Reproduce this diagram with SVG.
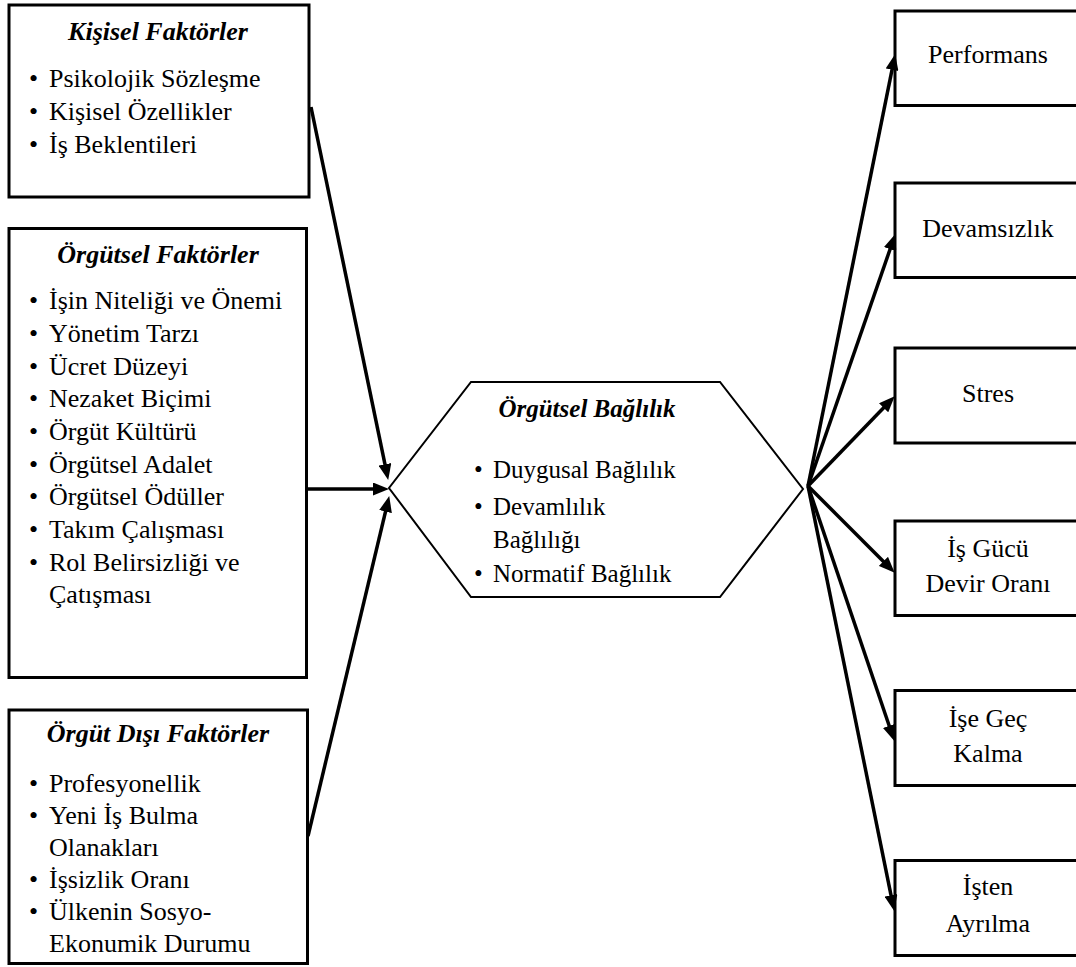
<svg xmlns="http://www.w3.org/2000/svg" width="1076" height="967" viewBox="0 0 1076 967" font-family="'Liberation Serif', 'DejaVu Serif', serif">
<style>
text{font-family:'Liberation Serif','DejaVu Serif',serif;font-size:26px;fill:#000}
.t{font-weight:bold;font-style:italic;text-anchor:middle}
.c{text-anchor:middle}
.box{fill:#fff;stroke:#000;stroke-width:3}
.hex{fill:#fff;stroke:#000;stroke-width:2}
.h text{font-size:25px}
.con line{stroke:#000;stroke-width:3.5;marker-end:url(#ah)}
</style>
<defs>
<marker id="ah" markerUnits="userSpaceOnUse" markerWidth="16" markerHeight="13" refX="5" refY="6.5" orient="auto">
<path d="M0,0 L16,6.5 L0,13 z" fill="#000"/>
</marker>
</defs>
<rect width="1076" height="967" fill="#fff"/>

<g id="kisisel">
<rect class="box" x="9" y="5" width="300" height="192"/>
<text class="t" x="158" y="40">Kişisel Faktörler</text>
<text x="29" y="87">•</text><text x="49" y="87">Psikolojik Sözleşme</text>
<text x="29" y="120">•</text><text x="49" y="120">Kişisel Özellikler</text>
<text x="29" y="153">•</text><text x="49" y="153">İş Beklentileri</text>
</g>

<g id="orgutsel">
<rect class="box" x="9" y="228.5" width="297.5" height="449"/>
<text class="t" x="158" y="263">Örgütsel Faktörler</text>
<text x="29" y="309">•</text><text x="49" y="309">İşin Niteliği ve Önemi</text>
<text x="29" y="342">•</text><text x="49" y="342">Yönetim Tarzı</text>
<text x="29" y="375">•</text><text x="49" y="375">Ücret Düzeyi</text>
<text x="29" y="407">•</text><text x="49" y="407">Nezaket Biçimi</text>
<text x="29" y="440">•</text><text x="49" y="440">Örgüt Kültürü</text>
<text x="29" y="473">•</text><text x="49" y="473">Örgütsel Adalet</text>
<text x="29" y="505">•</text><text x="49" y="505">Örgütsel Ödüller</text>
<text x="29" y="538">•</text><text x="49" y="538">Takım Çalışması</text>
<text x="29" y="571">•</text><text x="49" y="571">Rol Belirsizliği ve</text>
<text x="49" y="603">Çatışması</text>
</g>

<g id="orgutdisi">
<rect class="box" x="9" y="710" width="298.5" height="253.5"/>
<text class="t" x="158" y="742">Örgüt Dışı Faktörler</text>
<text x="29" y="792">•</text><text x="49" y="792">Profesyonellik</text>
<text x="29" y="824">•</text><text x="49" y="824">Yeni İş Bulma</text>
<text x="49" y="856">Olanakları</text>
<text x="29" y="888">•</text><text x="49" y="888">İşsizlik Oranı</text>
<text x="29" y="920">•</text><text x="49" y="920">Ülkenin Sosyo-</text>
<text x="49" y="952">Ekonumik Durumu</text>
</g>

<g id="baglilik" class="h">
<polygon class="hex" points="471,382 720,382 803,489 720,597 471,597 389,488"/>
<text class="t" x="587" y="417">Örgütsel Bağlılık</text>
<text x="474" y="478">•</text><text x="493" y="478">Duygusal Bağlılık</text>
<text x="474" y="515">•</text><text x="493" y="515">Devamlılık</text>
<text x="493" y="548">Bağlılığı</text>
<text x="474" y="582">•</text><text x="493" y="582">Normatif Bağlılık</text>
</g>

<g id="performans">
<rect class="box" x="895" y="11" width="200" height="94.5"/>
<text class="c" x="988" y="63">Performans</text>
</g>
<g id="devamsizlik">
<rect class="box" x="895" y="183" width="200" height="94.5"/>
<text class="c" x="988" y="237">Devamsızlık</text>
</g>
<g id="stres">
<rect class="box" x="895" y="348" width="200" height="95"/>
<text class="c" x="988" y="402">Stres</text>
</g>
<g id="isgucu">
<rect class="box" x="895" y="521" width="200" height="94.5"/>
<text class="c" x="988" y="557">İş Gücü</text>
<text class="c" x="988" y="592">Devir Oranı</text>
</g>
<g id="isegec">
<rect class="box" x="895" y="690.5" width="200" height="95"/>
<text class="c" x="988" y="727">İşe Geç</text>
<text class="c" x="988" y="762">Kalma</text>
</g>
<g id="istenayrilma">
<rect class="box" x="895" y="860.5" width="200" height="95"/>
<text class="c" x="988" y="895">İşten</text>
<text class="c" x="988" y="932">Ayrılma</text>
</g>

<g id="connectors" class="con">
<line x1="311" y1="107" x2="385.97" y2="469.21"/>
<line x1="307" y1="489" x2="378" y2="489"/>
<line x1="308" y1="836" x2="386.68" y2="506.73"/>
<line x1="808" y1="486" x2="893.02" y2="64.80"/>
<line x1="808" y1="486" x2="891.73" y2="244.45"/>
<line x1="808" y1="486" x2="887.05" y2="404.19"/>
<line x1="808" y1="486" x2="886.93" y2="564.93"/>
<line x1="808" y1="486" x2="890.79" y2="730.53"/>
<line x1="808" y1="486" x2="892.01" y2="900.20"/>
</g>
</svg>
